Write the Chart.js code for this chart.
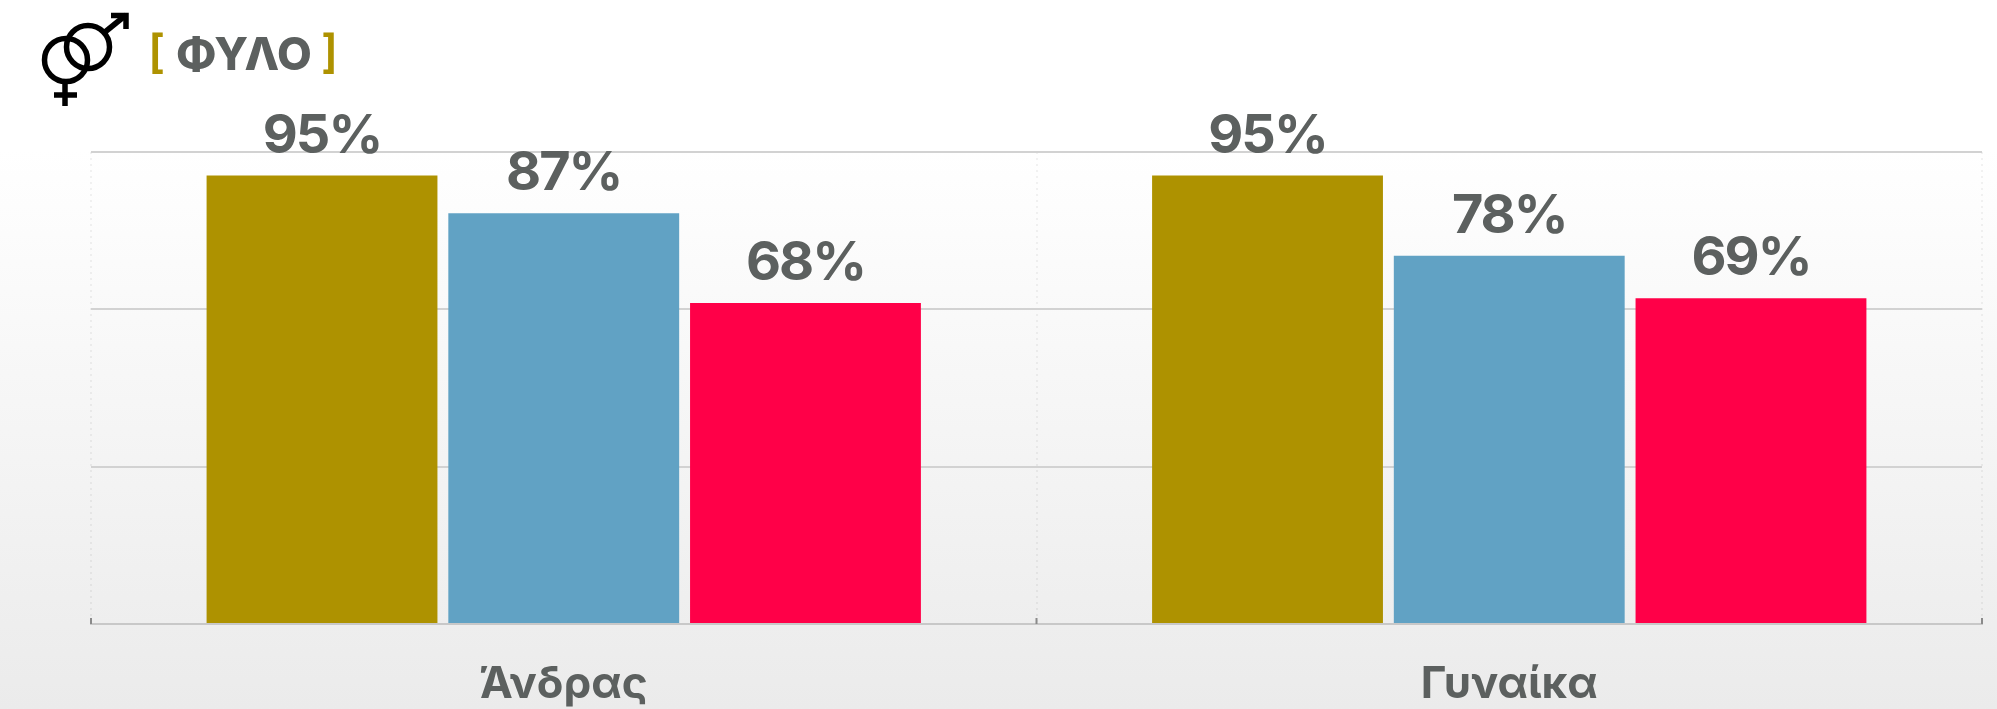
<!DOCTYPE html>
<html lang="el">
<head>
<meta charset="utf-8">
<title>ΦΥΛΟ</title>
<script src="https://cdn.jsdelivr.net/npm/chart.js@4"></script>
<style>
    html, body { margin: 0; padding: 0; width: 1997px; height: 709px; overflow: hidden; }
    body { position: relative; background: linear-gradient(#ffffff 0, #ffffff 150px, #ebebeb 100%); font-family: Inter, "Noto Sans", sans-serif; }
    #chartBox { position: absolute; left: 0; top: 0; width: 1997px; height: 709px; }
    #genderIcon { position: absolute; left: 0; top: 0; }
    .heading { position: absolute; font-weight: 700; line-height: 1; white-space: nowrap; }
    #headingText { left: 176px; top: 31px; font-size: 45px; font-weight: 800; color: #5c605f; }
    .bracket { top: 28px; font-size: 46px; font-weight: 600; color: #ae9200; }
</style>
</head>
<body>
<div id="chartBox"><canvas id="sexChart"></canvas></div>
<svg id="genderIcon" width="140" height="115" fill="none" stroke="#000" stroke-width="5.5">
    <circle cx="66" cy="60" r="21.5"/>
    <circle cx="88" cy="47" r="21.5"/>
    <path d="M105 32 L126 15"/>
    <path d="M111 15.5 H126 V29"/>
    <path d="M65 82 V106 M54 95 H77"/>
</svg>
<div class="heading bracket" style="left:148px">[</div>
<div id="headingText" class="heading">ΦΥΛΟ</div>
<div class="heading bracket" style="left:321px">]</div>
<script>
const categories = ['Άνδρας', 'Γυναίκα'];
const seriesGold = [95, 95];
const seriesBlue = [87, 78];
const seriesRed = [68, 69];
const yTicks = [0, 33.33, 66.67, 100];

const TEXT_COLOR = '#5c605f';

// percent labels above each bar
const valueLabels = {
    id: 'valueLabels',
    afterDatasetsDraw(chart) {
        const ctx = chart.ctx;
        ctx.save();
        ctx.font = '700 54px Inter, "Noto Sans", sans-serif';
        ctx.letterSpacing = '-2px';
        ctx.fillStyle = TEXT_COLOR;
        ctx.textAlign = 'center';
        ctx.textBaseline = 'alphabetic';
        chart.data.datasets.forEach((ds, i) => {
            chart.getDatasetMeta(i).data.forEach((bar, j) => {
                ctx.fillText(ds.data[j] + '%', bar.x, bar.y - 23);
            });
        });
        ctx.restore();
    }
};

// short upward ticks at the category boundaries
const boundaryTicks = {
    id: 'boundaryTicks',
    afterDraw(chart) {
        const { ctx, chartArea, scales } = chart;
        const mid = (scales.x.getPixelForValue(0) + scales.x.getPixelForValue(1)) / 2;
        ctx.save();
        ctx.strokeStyle = '#8a8a8a';
        ctx.lineWidth = 2;
        [chartArea.left, mid, chartArea.right].forEach(x => {
            ctx.beginPath();
            ctx.moveTo(x, chartArea.bottom - 6);
            ctx.lineTo(x, chartArea.bottom);
            ctx.stroke();
        });
        ctx.restore();
    }
};

new Chart(document.getElementById('sexChart'), {
    type: 'bar',
    data: {
        labels: categories,
        datasets: [
            { label: 'Σειρά 1', data: seriesGold, backgroundColor: '#ae9200' },
            { label: 'Σειρά 2', data: seriesBlue, backgroundColor: '#61a2c4' },
            { label: 'Σειρά 3', data: seriesRed, backgroundColor: '#ff0048' }
        ]
    },
    options: {
        responsive: true,
        maintainAspectRatio: false,
        animation: false,
        categoryPercentage: 0.767,
        barPercentage: 0.955,
        layout: { padding: { left: 91, right: 15, top: 152, bottom: 0 } },
        plugins: { legend: { display: false }, tooltip: { enabled: false } },
        scales: {
            x: {
                afterFit(axis) { axis.height = 85; },
                grid: { color: 'rgba(0,0,0,0.05)', tickLength: 0, lineWidth: 2 },
                border: { color: '#c8c8c8', width: 2, dash: [2, 4] },
                ticks: {
                    color: TEXT_COLOR,
                    padding: 34,
                    font: { family: 'Inter, "Noto Sans", sans-serif', size: 44, weight: '700' }
                }
            },
            y: {
                min: 0,
                max: 100,
                afterBuildTicks(axis) { axis.ticks = yTicks.map(value => ({ value })); },
                grid: { color: '#d2d2d2', lineWidth: 2, drawTicks: false },
                border: { display: false },
                ticks: { display: false }
            }
        }
    },
    plugins: [valueLabels, boundaryTicks]
});
</script>
</body>
</html>
